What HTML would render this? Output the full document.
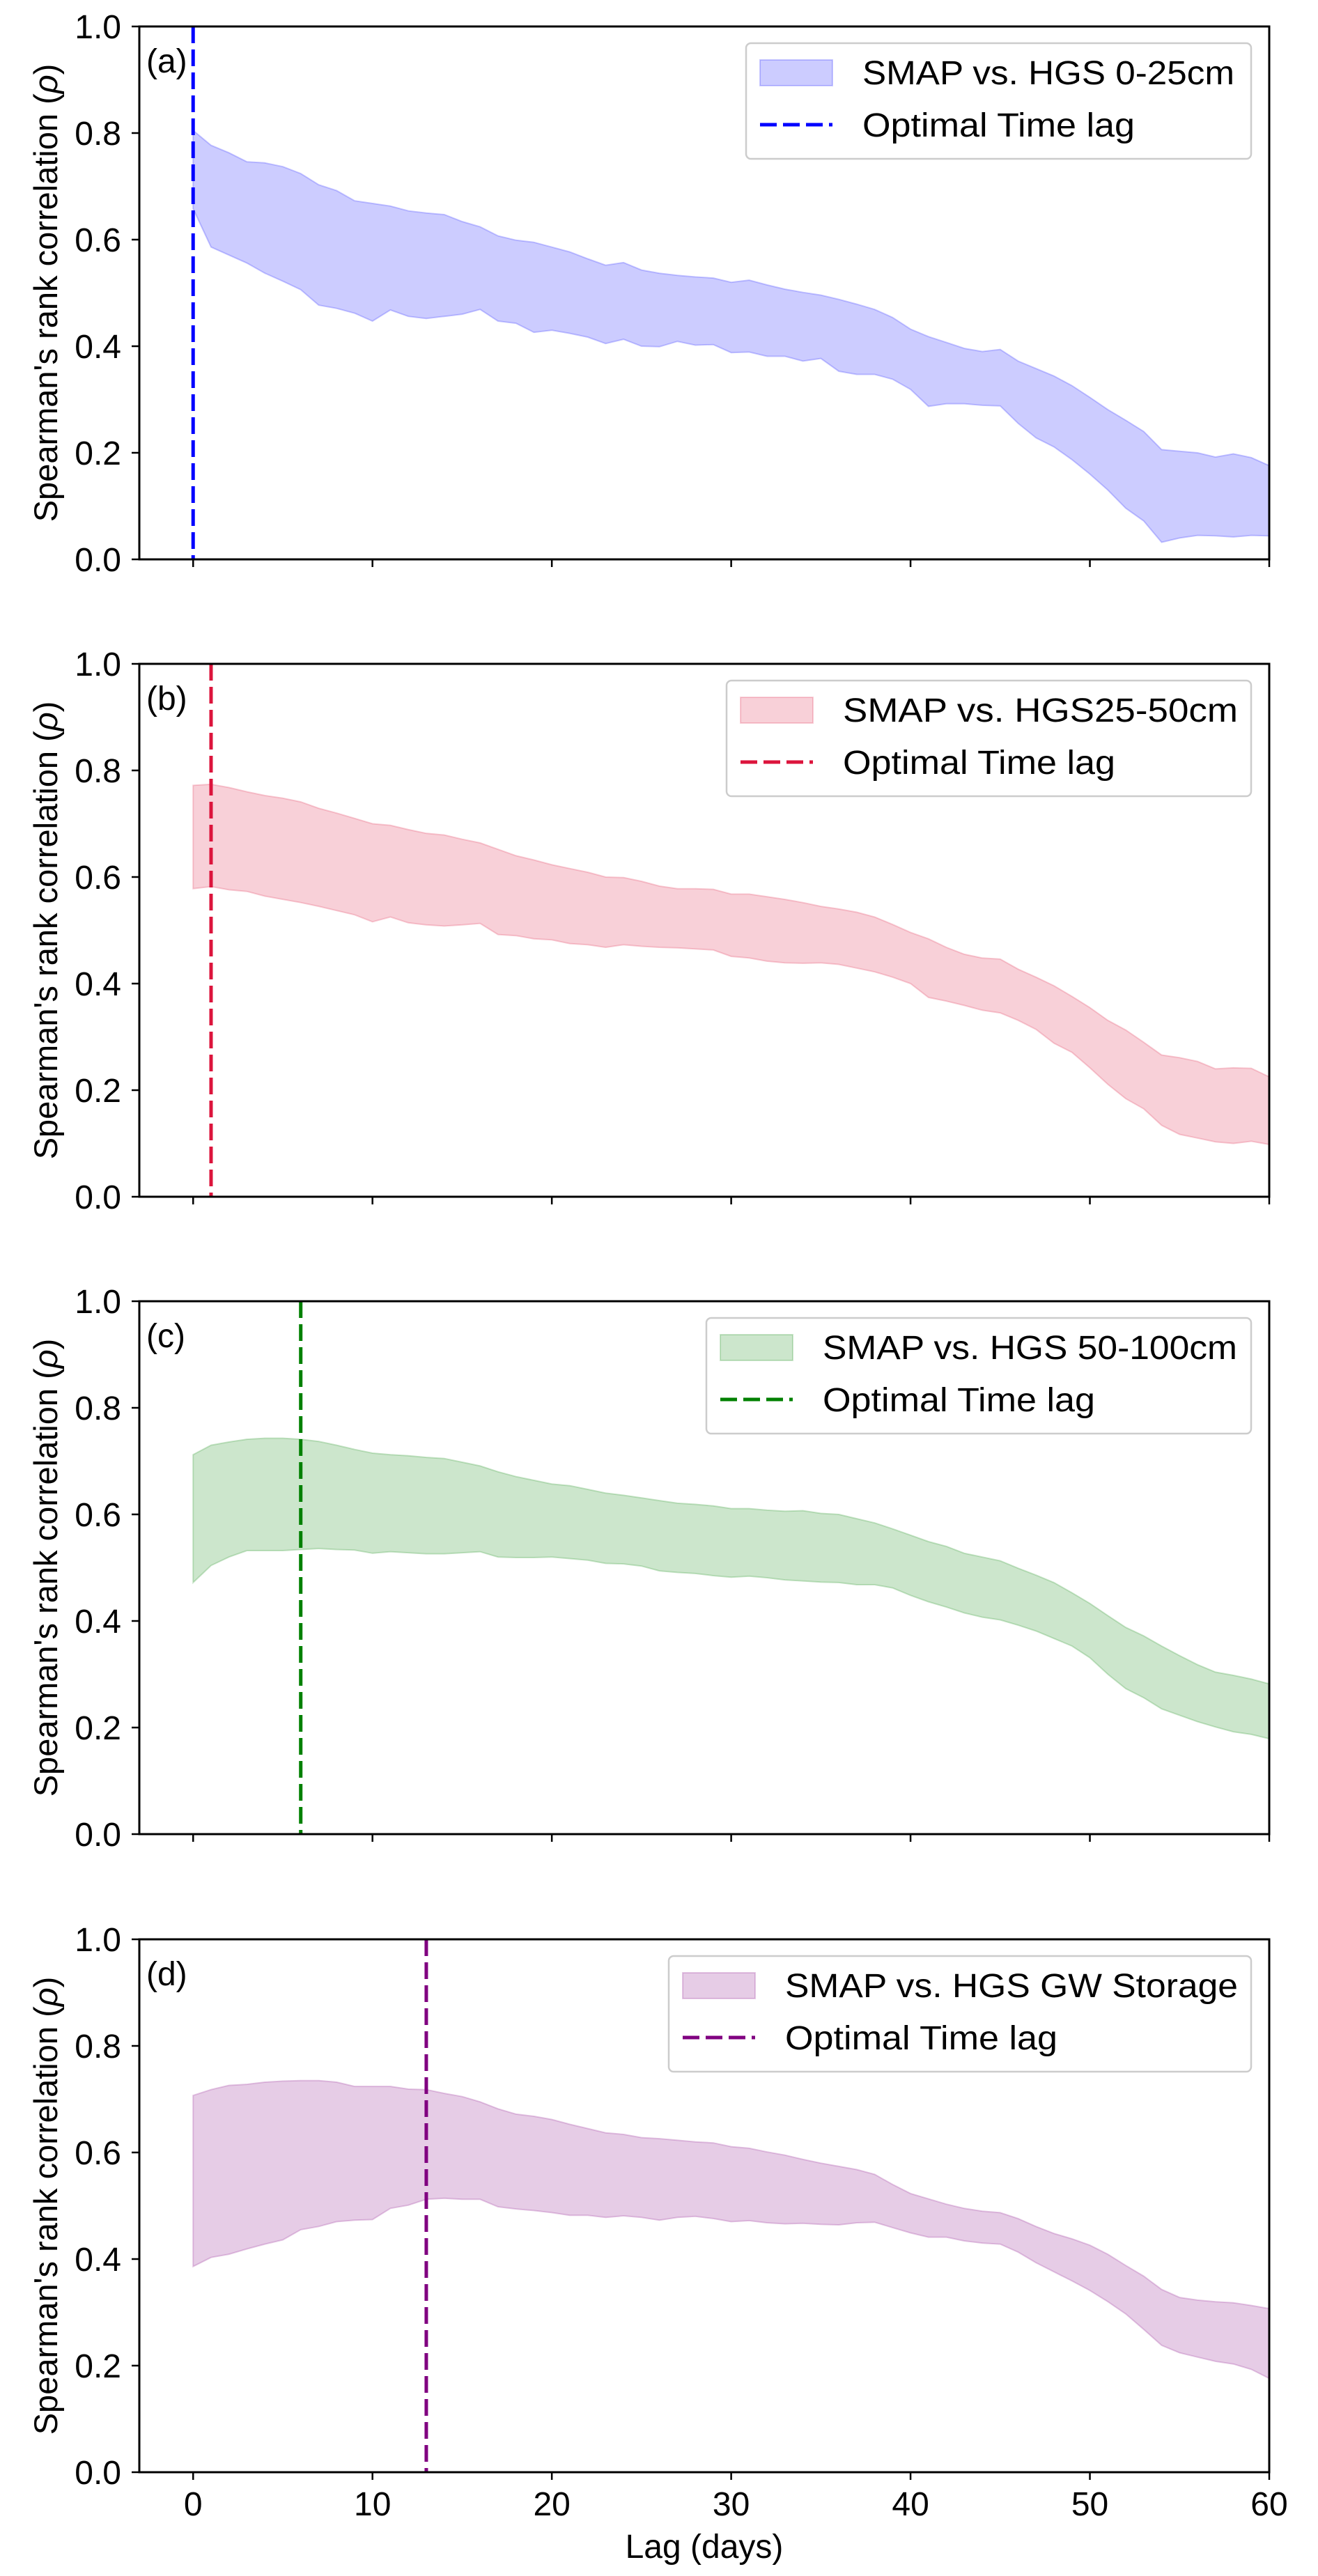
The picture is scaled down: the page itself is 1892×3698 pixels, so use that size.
<!DOCTYPE html>
<html><head><meta charset="utf-8"><style>
html,body{margin:0;padding:0;background:#fff;}
svg{display:block;font-family:"Liberation Sans",Arial,sans-serif;}
</style></head><body>
<svg id="fig" width="1892" height="3698" viewBox="0 0 1892 3698" xmlns="http://www.w3.org/2000/svg"></svg>
<script>
const lags=[];for(let i=0;i<=60;i++)lags.push(i);
const xTicks=[0,10,20,30,40,50,60];
const yTicks=[0.0,0.2,0.4,0.6,0.8,1.0];
const yTickLabels=["0.0","0.2","0.4","0.6","0.8","1.0"];
const xTickLabels=["0","10","20","30","40","50","60"];
const panelLetters=["(a)","(b)","(c)","(d)"];
const legendLabels=["SMAP vs. HGS 0-25cm","SMAP vs.  HGS25-50cm","SMAP vs. HGS 50-100cm","SMAP vs. HGS GW Storage"];
const optimalLags=[0,1,6,13];
const upperA=[0.805,0.777,0.763,0.746,0.744,0.737,0.724,0.703,0.692,0.673,0.668,0.663,0.654,0.650,0.647,0.634,0.624,0.607,0.599,0.595,0.586,0.577,0.564,0.552,0.557,0.543,0.537,0.533,0.530,0.528,0.520,0.524,0.515,0.507,0.501,0.496,0.488,0.479,0.469,0.454,0.432,0.418,0.407,0.396,0.390,0.394,0.372,0.358,0.344,0.326,0.304,0.281,0.261,0.240,0.206,0.203,0.200,0.192,0.198,0.191,0.176];
const lowerA=[0.658,0.586,0.571,0.556,0.537,0.522,0.506,0.477,0.471,0.462,0.447,0.468,0.456,0.452,0.456,0.460,0.469,0.447,0.443,0.426,0.430,0.424,0.417,0.405,0.413,0.400,0.399,0.409,0.402,0.403,0.388,0.389,0.381,0.381,0.372,0.377,0.353,0.347,0.347,0.338,0.319,0.287,0.292,0.292,0.289,0.288,0.255,0.228,0.211,0.187,0.160,0.130,0.096,0.072,0.032,0.040,0.045,0.044,0.042,0.045,0.044];
const upperB=[0.772,0.774,0.768,0.760,0.753,0.748,0.741,0.729,0.720,0.710,0.700,0.697,0.689,0.682,0.679,0.671,0.664,0.652,0.640,0.632,0.623,0.616,0.609,0.600,0.599,0.592,0.583,0.578,0.578,0.577,0.568,0.568,0.563,0.558,0.552,0.545,0.540,0.534,0.525,0.511,0.496,0.484,0.468,0.455,0.448,0.446,0.427,0.412,0.396,0.376,0.355,0.331,0.313,0.290,0.266,0.261,0.254,0.240,0.242,0.241,0.225];
const lowerB=[0.578,0.582,0.576,0.573,0.564,0.558,0.552,0.545,0.537,0.529,0.516,0.525,0.514,0.510,0.508,0.510,0.513,0.492,0.490,0.484,0.482,0.475,0.473,0.468,0.473,0.470,0.468,0.467,0.465,0.463,0.451,0.448,0.442,0.439,0.438,0.439,0.436,0.429,0.422,0.412,0.400,0.374,0.367,0.359,0.350,0.345,0.331,0.314,0.288,0.271,0.242,0.211,0.184,0.165,0.134,0.117,0.110,0.103,0.100,0.104,0.098];
const upperC=[0.712,0.730,0.736,0.741,0.743,0.743,0.741,0.737,0.730,0.722,0.715,0.712,0.710,0.707,0.705,0.698,0.691,0.680,0.671,0.664,0.657,0.654,0.647,0.640,0.636,0.631,0.626,0.621,0.619,0.616,0.611,0.611,0.608,0.606,0.607,0.602,0.600,0.592,0.584,0.573,0.561,0.549,0.540,0.527,0.520,0.513,0.499,0.486,0.472,0.453,0.433,0.410,0.388,0.372,0.353,0.335,0.318,0.304,0.298,0.291,0.282];
const lowerC=[0.472,0.504,0.520,0.532,0.532,0.532,0.534,0.536,0.534,0.533,0.527,0.530,0.528,0.526,0.526,0.528,0.530,0.520,0.519,0.519,0.520,0.517,0.514,0.508,0.507,0.503,0.494,0.491,0.489,0.485,0.482,0.484,0.481,0.477,0.475,0.473,0.472,0.468,0.468,0.462,0.448,0.436,0.426,0.415,0.407,0.402,0.392,0.381,0.367,0.353,0.331,0.300,0.273,0.256,0.235,0.223,0.211,0.201,0.192,0.187,0.179];
const upperD=[0.707,0.718,0.726,0.728,0.732,0.734,0.735,0.735,0.732,0.724,0.724,0.724,0.719,0.718,0.711,0.705,0.695,0.682,0.672,0.668,0.662,0.653,0.645,0.637,0.634,0.628,0.626,0.623,0.620,0.618,0.611,0.608,0.601,0.595,0.587,0.580,0.574,0.568,0.559,0.540,0.523,0.513,0.503,0.495,0.490,0.487,0.476,0.461,0.448,0.438,0.426,0.409,0.388,0.368,0.343,0.328,0.323,0.320,0.318,0.313,0.307];
const lowerD=[0.386,0.403,0.409,0.419,0.428,0.436,0.455,0.461,0.470,0.473,0.474,0.495,0.501,0.512,0.514,0.512,0.512,0.498,0.494,0.491,0.487,0.482,0.482,0.478,0.481,0.478,0.473,0.478,0.480,0.476,0.470,0.472,0.468,0.466,0.467,0.465,0.464,0.468,0.469,0.459,0.449,0.441,0.441,0.434,0.430,0.428,0.413,0.393,0.376,0.359,0.341,0.320,0.297,0.268,0.238,0.224,0.216,0.208,0.203,0.193,0.176];

const uppers=[upperA,upperB,upperC,upperD];
const lowers=[lowerA,lowerB,lowerC,lowerD];
const colors=["#0000ff","#dc143c","#008000","#800080"];
const panelTops=[38,953,1868,2784];
const legendLefts=[1071,1043,1014,960];
const legendTextW=[534,567,595,650];
const NS="http://www.w3.org/2000/svg";
const svg=document.getElementById('fig');
const L=200,R=1822,H=765,XMIN=-3,XMAX=60;
function mk(tag,attrs,parent){const e=document.createElementNS(NS,tag);for(const k in attrs)e.setAttribute(k,attrs[k]);(parent||svg).appendChild(e);return e;}
function xs(v){return L+(v-XMIN)/(XMAX-XMIN)*(R-L);}

for(let p=0;p<4;p++){
  const top=panelTops[p],bot=top+H;
  const ys=v=>bot-v*H;
  const g=mk('g',{});
  
  
  let d='';
  lags.forEach((x,i)=>{d+=(i?'L':'M')+xs(x).toFixed(1)+' '+ys(uppers[p][i]).toFixed(1)+' ';});
  for(let i=lags.length-1;i>=0;i--)d+='L'+xs(lags[i]).toFixed(1)+' '+ys(lowers[p][i]).toFixed(1)+' ';
  d+='Z';
  const band=mk('path',{d:d,fill:colors[p],'fill-opacity':0.2,stroke:colors[p],'stroke-opacity':0.2,'stroke-width':2},g);
  
  
  const vl=mk('line',{x1:xs(optimalLags[p]),x2:xs(optimalLags[p]),y1:top,y2:bot,stroke:colors[p],'stroke-width':5,'stroke-dasharray':'24 9'},g);
  
  
  const fr=mk('rect',{x:L,y:top,width:R-L,height:H,fill:'none',stroke:'#000','stroke-width':3},g);
  
  
  yTicks.forEach((v,i)=>{
    mk('line',{x1:L-11,x2:L,y1:ys(v),y2:ys(v),stroke:'#000','stroke-width':2.5},g);
    const t=mk('text',{x:174,y:ys(v)+17,'text-anchor':'end','font-size':48},g);
    
    
    t.textContent=yTickLabels[i];
  });
  xTicks.forEach((v,i)=>{
    mk('line',{x1:xs(v),x2:xs(v),y1:bot,y2:bot+11,stroke:'#000','stroke-width':2.5},g);
    if(p===3){
      const t=mk('text',{x:xs(v),y:bot+62,'text-anchor':'middle','font-size':48},g);
      
      
      t.textContent=xTickLabels[i];
    }
  });
  const yl=mk('text',{x:0,y:0,'text-anchor':'middle','font-size':47,transform:'translate(82,'+(top+H/2)+') rotate(-90)'},g);
  
  
  yl.innerHTML="Spearman's rank correlation (<tspan font-style='italic'>ρ</tspan>)";
  const pl=mk('text',{x:210,y:top+66,'font-size':48},g);
  
  
  pl.textContent=panelLetters[p];
  const lx=legendLefts[p],ly=top+24;
  const lg=mk('g',{},g);
  
  
  mk('rect',{x:lx,y:ly,width:1796-lx,height:166,rx:7,fill:'#fff','fill-opacity':0.8,stroke:'#cccccc','stroke-width':2.5},lg);
  const pt=mk('rect',{x:lx+20,y:ly+24,width:104,height:37,fill:colors[p],'fill-opacity':0.2,stroke:colors[p],'stroke-opacity':0.2,'stroke-width':2},lg);
  
  
  const t1=mk('text',{x:lx+167,y:ly+59,'font-size':48,textLength:legendTextW[p],lengthAdjust:'spacingAndGlyphs','xml:space':'preserve'},lg);
  
  
  t1.textContent=legendLabels[p];
  mk('line',{x1:lx+20,x2:lx+124,y1:ly+117,y2:ly+117,stroke:colors[p],'stroke-width':5,'stroke-dasharray':'24 9'},lg);
  const t2=mk('text',{x:lx+167,y:ly+134,'font-size':48,textLength:391,lengthAdjust:'spacingAndGlyphs'},lg);
  
  
  t2.textContent='Optimal Time lag';
}
const xl=mk('text',{x:(L+R)/2,y:3672,'text-anchor':'middle','font-size':48});


xl.textContent='Lag (days)';
</script>
</body></html>
